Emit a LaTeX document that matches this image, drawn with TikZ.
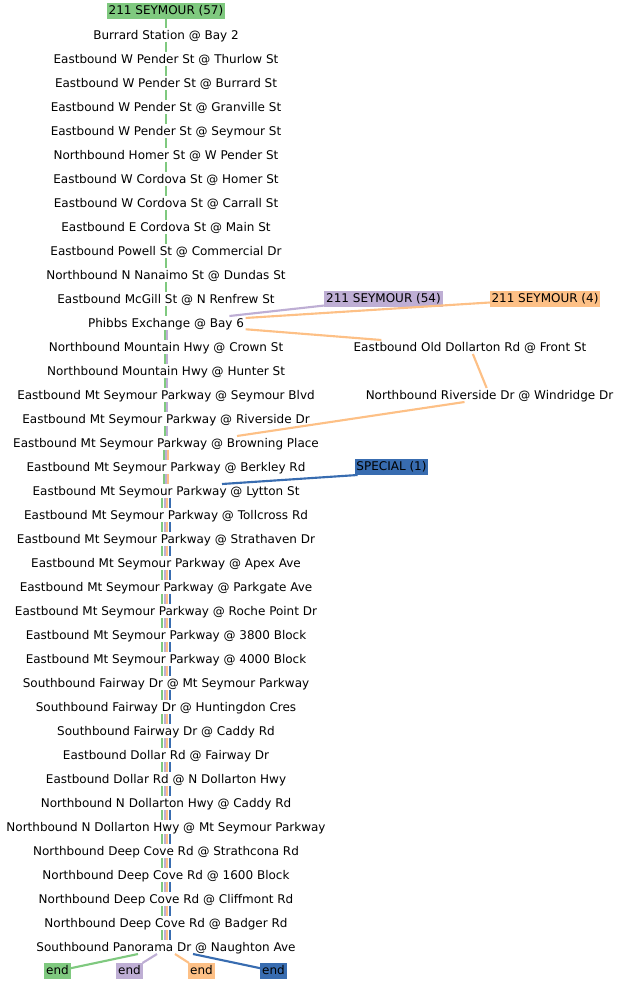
\documentclass[tikz,border=0pt]{standalone}
\usepackage{fontspec}
\setmainfont{DejaVu Sans}
\usepackage{tikz}
\usetikzlibrary{positioning}
\definecolor{rtgreen}{HTML}{7FC97F}
\definecolor{rtpurple}{HTML}{BEAED4}
\definecolor{rtorange}{HTML}{FDC086}
\definecolor{rtblue}{HTML}{386CB0}

\begin{document}
\begin{tikzpicture}[
  x=0.75pt, y=-0.75pt,
  node distance=7.5pt,
  stopbox/.style={font=\fontsize{9pt}{10pt}\selectfont, inner xsep=1.3pt, inner ysep=0.75pt, outer sep=0pt, text height=7.9pt, text depth=1.1pt},
  routebox/.style={stopbox, inner ysep=1.5pt, text height=7.3pt, text depth=1.7pt},
  rte/.style={line width=1.6pt}
]
  \useasboundingbox (0,0) rectangle (620,984);

  % main column
  \node[routebox, fill=rtgreen] (r57) at (166,11) {211 SEYMOUR (57)};
  \node[stopbox, below=6.75pt of r57] (s1) {Burrard Station @ Bay 2};
  \node[stopbox, below=of s1] (s2) {Eastbound W Pender St @ Thurlow St};
  \node[stopbox, below=of s2] (s3) {Eastbound W Pender St @ Burrard St};
  \node[stopbox, below=of s3] (s4) {Eastbound W Pender St @ Granville St};
  \node[stopbox, below=of s4] (s5) {Eastbound W Pender St @ Seymour St};
  \node[stopbox, below=of s5] (s6) {Northbound Homer St @ W Pender St};
  \node[stopbox, below=of s6] (s7) {Eastbound W Cordova St @ Homer St};
  \node[stopbox, below=of s7] (s8) {Eastbound W Cordova St @ Carrall St};
  \node[stopbox, below=of s8] (s9) {Eastbound E Cordova St @ Main St};
  \node[stopbox, below=of s9] (s10) {Eastbound Powell St @ Commercial Dr};
  \node[stopbox, below=of s10] (s11) {Northbound N Nanaimo St @ Dundas St};
  \node[stopbox, below=of s11] (s12) {Eastbound McGill St @ N Renfrew St};
  \node[stopbox, below=of s12] (s13) {Phibbs Exchange @ Bay 6};
  \node[stopbox, below=of s13] (s14) {Northbound Mountain Hwy @ Crown St};
  \node[stopbox, below=of s14] (s15) {Northbound Mountain Hwy @ Hunter St};
  \node[stopbox, below=of s15] (s16) {Eastbound Mt Seymour Parkway @ Seymour Blvd};
  \node[stopbox, below=of s16] (s17) {Eastbound Mt Seymour Parkway @ Riverside Dr};
  \node[stopbox, below=of s17] (s18) {Eastbound Mt Seymour Parkway @ Browning Place};
  \node[stopbox, below=of s18] (s19) {Eastbound Mt Seymour Parkway @ Berkley Rd};
  \node[stopbox, below=of s19] (s20) {Eastbound Mt Seymour Parkway @ Lytton St};
  \node[stopbox, below=of s20] (s21) {Eastbound Mt Seymour Parkway @ Tollcross Rd};
  \node[stopbox, below=of s21] (s22) {Eastbound Mt Seymour Parkway @ Strathaven Dr};
  \node[stopbox, below=of s22] (s23) {Eastbound Mt Seymour Parkway @ Apex Ave};
  \node[stopbox, below=of s23] (s24) {Eastbound Mt Seymour Parkway @ Parkgate Ave};
  \node[stopbox, below=of s24] (s25) {Eastbound Mt Seymour Parkway @ Roche Point Dr};
  \node[stopbox, below=of s25] (s26) {Eastbound Mt Seymour Parkway @ 3800 Block};
  \node[stopbox, below=of s26] (s27) {Eastbound Mt Seymour Parkway @ 4000 Block};
  \node[stopbox, below=of s27] (s28) {Southbound Fairway Dr @ Mt Seymour Parkway};
  \node[stopbox, below=of s28] (s29) {Southbound Fairway Dr @ Huntingdon Cres};
  \node[stopbox, below=of s29] (s30) {Southbound Fairway Dr @ Caddy Rd};
  \node[stopbox, below=of s30] (s31) {Eastbound Dollar Rd @ Fairway Dr};
  \node[stopbox, below=of s31] (s32) {Eastbound Dollar Rd @ N Dollarton Hwy};
  \node[stopbox, below=of s32] (s33) {Northbound N Dollarton Hwy @ Caddy Rd};
  \node[stopbox, below=of s33] (s34) {Northbound N Dollarton Hwy @ Mt Seymour Parkway};
  \node[stopbox, below=of s34] (s35) {Northbound Deep Cove Rd @ Strathcona Rd};
  \node[stopbox, below=of s35] (s36) {Northbound Deep Cove Rd @ 1600 Block};
  \node[stopbox, below=of s36] (s37) {Northbound Deep Cove Rd @ Cliffmont Rd};
  \node[stopbox, below=of s37] (s38) {Northbound Deep Cove Rd @ Badger Rd};
  \node[stopbox, below=of s38] (s39) {Southbound Panorama Dr @ Naughton Ave};

  % side branches
  \node[routebox, fill=rtpurple] (r54) at (383.5,299) {211 SEYMOUR (54)};
  \node[routebox, fill=rtorange] (r4) at (545,299) {211 SEYMOUR (4)};
  \node[stopbox] (oldd) at (470,347) {Eastbound Old Dollarton Rd @ Front St};
  \node[stopbox] (rivr) at (489.5,395) {Northbound Riverside Dr @ Windridge Dr};
  \node[routebox, fill=rtblue] (rsp) at (391.5,467) {SPECIAL (1)};

  % ends
  \node[routebox, fill=rtgreen] (e57) at (57.5,971) {end};
  \node[routebox, fill=rtpurple] (e54) at (129.5,971) {end};
  \node[routebox, fill=rtorange] (e4) at (201.5,971) {end};
  \node[routebox, fill=rtblue] (esp) at (273.5,971) {end};

  % bundled trunk
  \draw[rte, draw=rtgreen] (r57) -- (s1);
  \foreach \col/\dx/\first/\last in {rtgreen/0/1/12, rtgreen/-0.9/13/17, rtgreen/-1.8/18/19, rtgreen/-2.7/20/38,
      rtpurple/0.9/13/17, rtpurple/0/18/19, rtpurple/-0.9/20/38,
      rtorange/1.8/18/19, rtorange/0.9/20/38, rtblue/2.7/20/38}
    \foreach \i in {\first,...,\last} {
      \pgfmathtruncatemacro\j{\i+1}
      \draw[rte, draw=\col] ([xshift=\dx pt]s\i.south) -- ([xshift=\dx pt]s\j.north);
    }

  \draw[rte, draw=rtpurple] (r54) -- (s13);
  \draw[rte, draw=rtorange] (r4) -- (s13);
  \draw[rte, draw=rtorange] (s13) -- (oldd);
  \draw[rte, draw=rtorange] (oldd) -- (rivr);
  \draw[rte, draw=rtorange] ([xshift=-18.75pt]rivr.south) -- ([xshift=53.25pt]s18.north);
  \draw[rte, draw=rtblue] ([xshift=-25.5pt]rsp.south) -- ([xshift=42pt]s20.north);

  \draw[rte, draw=rtgreen] ([xshift=-21pt]s39.south) -- (e57);
  \draw[rte, draw=rtpurple] ([xshift=-6.75pt]s39.south) -- (e54);
  \draw[rte, draw=rtorange] ([xshift=6.75pt]s39.south) -- (e4);
  \draw[rte, draw=rtblue] ([xshift=20.25pt]s39.south) -- (esp);
\end{tikzpicture}
\end{document}
